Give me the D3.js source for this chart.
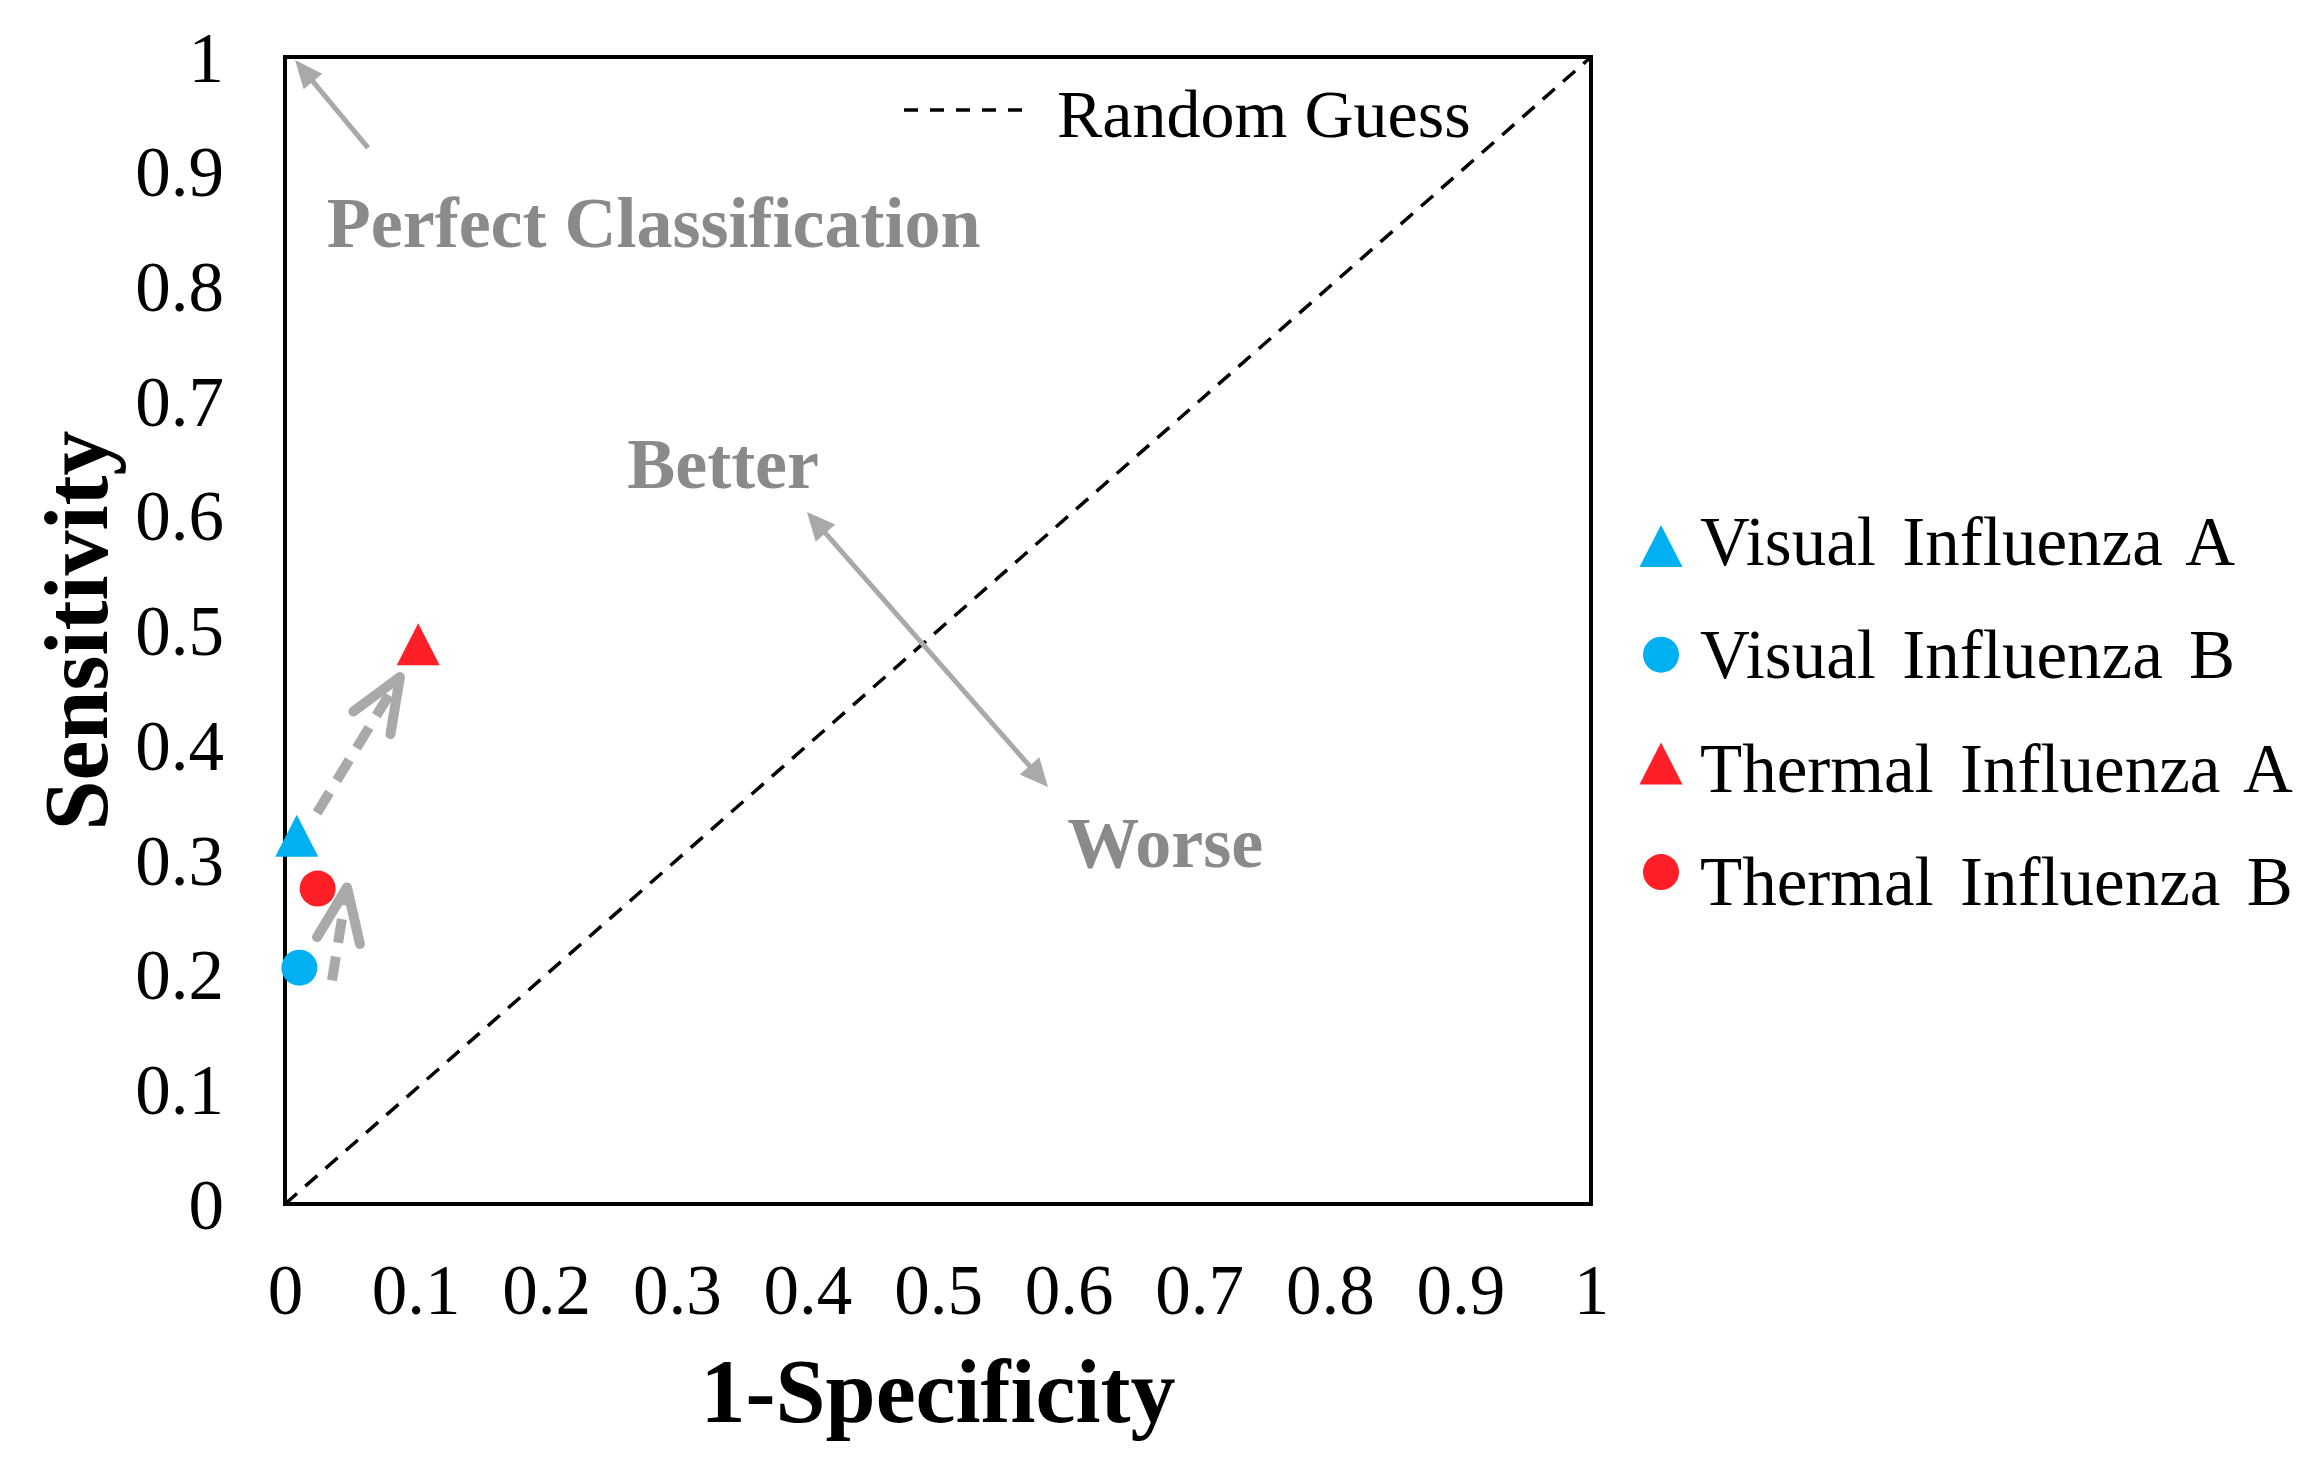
<!DOCTYPE html>
<html>
<head>
<meta charset="utf-8">
<script src="https://cdn.jsdelivr.net/npm/d3@7"></script>
<style>
  html, body { margin: 0; padding: 0; background: #fff; }
  svg { display: block; }
  text { font-family: "Liberation Serif", "Times New Roman", serif; }
</style>
</head>
<body>
<div id="chart"></div>
<script>
// ROC space: 1-specificity vs sensitivity
var seriesNames  = ['Visual Influenza A', 'Visual Influenza B', 'Thermal Influenza A', 'Thermal Influenza B'];
var seriesColors = ['#00b0f0', '#00b0f0', '#ff1f27', '#ff1f27'];
var seriesShapes = ['triangle', 'circle', 'triangle', 'circle'];
var fprValues    = [0.009, 0.011, 0.102, 0.025];
var tprValues    = [0.321, 0.206, 0.488, 0.275];

var tickValues = [0, 0.1, 0.2, 0.3, 0.4, 0.5, 0.6, 0.7, 0.8, 0.9, 1];
var tickLabels = ['0', '0.1', '0.2', '0.3', '0.4', '0.5', '0.6', '0.7', '0.8', '0.9', '1'];

// annotations, in data units
var improveArrows = [
  {from: [0.0245, 0.341], to: [0.088, 0.4595]},
  {from: [0.036, 0.195],  to: [0.0475, 0.276]}
];
var noteLabels = [
  {text: 'Perfect Classification', at: [0.032, 0.834]},
  {text: 'Better',                 at: [0.262, 0.624]},
  {text: 'Worse',                  at: [0.599, 0.294]}
];
var perfectArrow = {from: [0.0636, 0.9207], to: [0.0077, 0.9974]};
var betterWorse  = {a: [0.3997, 0.6033], b: [0.5842, 0.3636]};

var W = 2322, H = 1467;
var plot = {left: 285, top: 57, right: 1591, bottom: 1204};
var GREY_TEXT = '#8a8a8a', GREY_ARROW = '#a9a9a9';

var svg = d3.select('#chart').append('svg')
  .attr('width', W).attr('height', H);

var x = d3.scaleLinear().domain([0, 1]).range([plot.left, plot.right]);
var y = d3.scaleLinear().domain([0, 1]).range([plot.bottom, plot.top]);

function fmt(d) { return tickLabels[tickValues.indexOf(d)]; }

//axes, labels only; frame drawn below
var xAxis = svg.append('g')
  .attr('transform', 'translate(0,' + plot.bottom + ')')
  .call(d3.axisBottom(x).tickValues(tickValues).tickFormat(fmt).tickSize(0));
xAxis.select('.domain').remove();
xAxis.selectAll('text')
  .attr('y', 110).attr('dy', null)
  .attr('font-size', 71).attr('fill', '#000');

var yAxis = svg.append('g')
  .attr('transform', 'translate(' + plot.left + ',0)')
  .call(d3.axisLeft(y).tickValues(tickValues).tickFormat(fmt).tickSize(0));
yAxis.select('.domain').remove();
yAxis.selectAll('text')
  .attr('x', -61).attr('dy', '0.34em')
  .attr('font-size', 71).attr('fill', '#000');
svg.selectAll('.tick text').attr('font-family', null);

// frame
svg.append('rect')
  .attr('x', plot.left).attr('y', plot.top)
  .attr('width', plot.right - plot.left).attr('height', plot.bottom - plot.top)
  .attr('fill', 'none').attr('stroke', '#000').attr('stroke-width', 4);

// random guess diagonal
svg.append('line')
  .attr('x1', x(0)).attr('y1', y(0)).attr('x2', x(1)).attr('y2', y(1))
  .attr('stroke', '#000').attr('stroke-width', 3.5).attr('stroke-dasharray', '16,11');

// legend for diagonal, top right inside plot
svg.append('line')
  .attr('x1', plot.right - 687).attr('x2', plot.right - 569)
  .attr('y1', plot.top + 53).attr('y2', plot.top + 53)
  .attr('stroke', '#000').attr('stroke-width', 3.5).attr('stroke-dasharray', '14,12');
svg.append('text')
  .attr('x', plot.right - 534).attr('y', plot.top + 80)
  .attr('font-size', 68).attr('fill', '#000')
  .text('Random Guess');

// helpers for arrowheads
function unit(p, q) {
  var dx = q[0] - p[0], dy = q[1] - p[1], l = Math.sqrt(dx * dx + dy * dy);
  return [dx / l, dy / l];
}
function solidHead(tip, back, len, hw) {
  var u = unit(tip, back), p = [-u[1], u[0]];
  var bx = tip[0] + u[0] * len, by = tip[1] + u[1] * len;
  svg.append('path')
    .attr('d', 'M' + tip[0] + ',' + tip[1] +
      'L' + (bx + p[0] * hw) + ',' + (by + p[1] * hw) +
      'L' + (bx - p[0] * hw) + ',' + (by - p[1] * hw) + 'Z')
    .attr('fill', GREY_ARROW);
}
function openHead(tip, back, len, ang) {
  var u = unit(tip, back);
  var arms = [ang, -ang].map(function (a) {
    var c = Math.cos(a), s = Math.sin(a);
    return [tip[0] + len * (u[0] * c - u[1] * s), tip[1] + len * (u[0] * s + u[1] * c)];
  });
  svg.append('path')
    .attr('d', 'M' + arms[0][0] + ',' + arms[0][1] + 'L' + tip[0] + ',' + tip[1] +
      'L' + arms[1][0] + ',' + arms[1][1])
    .attr('fill', 'none').attr('stroke', GREY_ARROW).attr('stroke-width', 10)
    .attr('stroke-linecap', 'round').attr('stroke-linejoin', 'round');
}
function px(d) { return [x(d[0]), y(d[1])]; }

// perfect classification arrow
(function () {
  var tail = px(perfectArrow.from), tip = px(perfectArrow.to);
  var u = unit(tip, tail);
  svg.append('line')
    .attr('x1', tail[0]).attr('y1', tail[1])
    .attr('x2', tip[0] + u[0] * 22).attr('y2', tip[1] + u[1] * 22)
    .attr('stroke', GREY_ARROW).attr('stroke-width', 5);
  solidHead(tip, tail, 28, 12);
})();

// better / worse double arrow
(function () {
  var a = px(betterWorse.a), b = px(betterWorse.b);
  var u = unit(a, b);
  svg.append('line')
    .attr('x1', a[0] + u[0] * 22).attr('y1', a[1] + u[1] * 22)
    .attr('x2', b[0] - u[0] * 22).attr('y2', b[1] - u[1] * 22)
    .attr('stroke', GREY_ARROW).attr('stroke-width', 5);
  solidHead(a, b, 28, 13);
  solidHead(b, a, 28, 13);
})();

// dashed improvement arrows
improveArrows.forEach(function (d) {
  var s = px(d.from), t = px(d.to);
  svg.append('line')
    .attr('x1', s[0]).attr('y1', s[1]).attr('x2', t[0]).attr('y2', t[1])
    .attr('stroke', GREY_ARROW).attr('stroke-width', 10)
    .attr('stroke-dasharray', '24,14');
  openHead(t, s, 58, 22 * Math.PI / 180);
});

// annotation labels
svg.selectAll('text.note').data(noteLabels).enter().append('text')
  .attr('class', 'note')
  .attr('x', function (d) { return x(d.at[0]); })
  .attr('y', function (d) { return y(d.at[1]); })
  .attr('font-size', 72).attr('font-weight', 'bold').attr('fill', GREY_TEXT)
  .text(function (d) { return d.text; });

// markers
function markerPath(shape) {
  if (shape === 'triangle') return 'M0,-21L21.5,21L-21.5,21Z';
  return d3.arc()({innerRadius: 0, outerRadius: 18, startAngle: 0, endAngle: 2 * Math.PI});
}
var points = seriesNames.map(function (n, i) {
  return {name: n, color: seriesColors[i], shape: seriesShapes[i], fpr: fprValues[i], tpr: tprValues[i]};
});
svg.selectAll('path.pt').data(points).enter().append('path')
  .attr('class', 'pt')
  .attr('d', function (d) { return markerPath(d.shape); })
  .attr('transform', function (d) { return 'translate(' + x(d.fpr) + ',' + y(d.tpr) + ')'; })
  .attr('fill', function (d) { return d.color; });

// legend on the right
var legend = svg.append('g');
var rows = legend.selectAll('g').data(points).enter().append('g');
rows.append('path')
  .attr('d', function (d) { return markerPath(d.shape); })
  .attr('transform', function (d, i) { return 'translate(1661,' + (546 + i * 108.7) + ')'; })
  .attr('fill', function (d) { return d.color; });
rows.append('text')
  .attr('x', 1700)
  .attr('y', function (d, i) { return 565 + i * 113.3; })
  .attr('font-size', 69).attr('word-spacing', 9).attr('fill', '#000')
  .text(function (d) { return d.name; });

// axis titles
svg.append('text')
  .attr('x', (plot.left + plot.right) / 2).attr('y', 1422)
  .attr('text-anchor', 'middle')
  .attr('font-size', 90).attr('font-weight', 'bold').attr('fill', '#000')
  .text('1-Specificity');
svg.append('text')
  .attr('transform', 'translate(107,' + (plot.top + plot.bottom) / 2 + ') rotate(-90)')
  .attr('text-anchor', 'middle')
  .attr('font-size', 90).attr('font-weight', 'bold').attr('fill', '#000')
  .text('Sensitivity');
</script>
</body>
</html>
